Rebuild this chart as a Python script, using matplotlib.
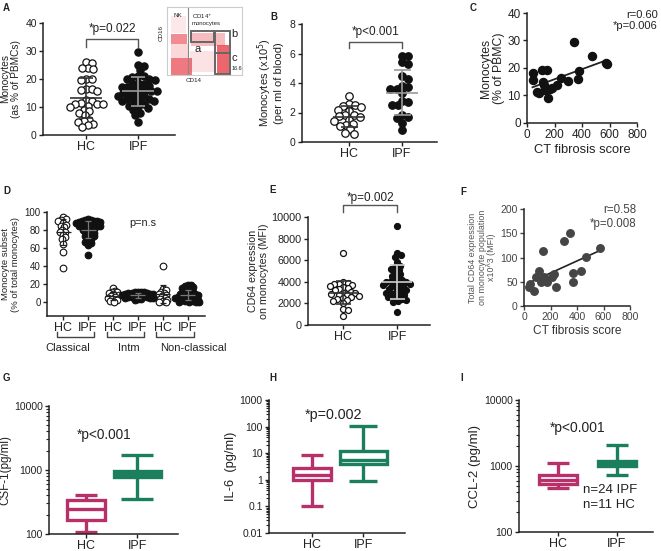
import numpy as np
import matplotlib.pyplot as plt
from matplotlib.patches import Rectangle
from matplotlib.transforms import blended_transform_factory

plt.rcParams['font.family'] = ['Liberation Sans', 'DejaVu Sans']
plt.rcParams['text.color'] = '#222222'
plt.rcParams['axes.labelcolor'] = '#222222'
plt.rcParams['xtick.color'] = '#222222'
plt.rcParams['ytick.color'] = '#222222'

# ---------------- data ----------------
groups = ['HC', 'IPF']

# A: monocytes as % of PBMCs
a_hc = [26, 25.5, 24, 24, 23.5, 20, 20, 19.5, 16.5, 16.5, 16, 15.5, 12.5, 12, 11.5,
        11, 11, 11, 10.5, 10, 9, 8.5, 8, 7, 5.5, 5, 4.5, 4, 3.5, 3]
a_ipf = [29.5, 25, 24.5, 23, 21, 21, 20.5, 20, 20, 19.5, 18.5, 18, 18, 17.5, 17, 17,
         16.5, 16, 16, 15.5, 15.5, 15, 15, 14.5, 14, 14, 13.5, 13, 13, 12.5, 12, 12,
         11.5, 11, 10.5, 10, 9.5, 9, 8, 7, 4.5]

# B: monocytes (x10^5) per ml blood
b_hc = [3.1, 2.55, 2.5, 2.45, 2.4, 2.2, 2.1, 1.85, 1.8, 1.75, 1.7, 1.5, 1.45, 1.2,
        1.15, 1.1, 0.85, 0.6, 0.55]
b_ipf = [5.85, 5.8, 5.4, 5.3, 4.5, 4.3, 3.8, 3.7, 3.6, 3.6, 3.3, 2.8, 2.7, 2.5, 2.5,
         1.8, 1.7, 1.6, 1.3, 0.8]

# C: CT fibrosis score vs monocytes (% of PBMC)
c_score = [45, 40, 75, 85, 110, 115, 125, 145, 130, 150, 165, 180, 215, 245, 300,
           345, 370, 375, 470, 575, 580]
c_mono = [18.3, 15.5, 11.3, 10.8, 19.2, 14.8, 13.8, 19.2, 12.0, 9.2, 12.5, 12.8,
          13.8, 16.2, 15.2, 29.3, 15.9, 18.8, 24.2, 21.8, 21.3]

# D: monocyte subsets (% of total monocytes)
d_subsets = ['Classical', 'Intm', 'Non-classical']
d_hc_classical = [94, 92, 91, 90, 88, 86, 85, 83, 80, 78, 78, 75, 72, 70, 65, 56, 38]
d_ipf_classical = [92, 91, 91, 90, 90, 90, 89, 89, 88, 88, 87, 87, 86, 86, 85, 85, 84,
                   84, 83, 82, 81, 80, 80, 79, 78, 77, 76, 75, 74, 73, 72, 70, 68, 67,
                   66, 64, 52]
d_hc_intm = [16, 13, 12, 11, 10, 9, 8, 7, 6, 5, 4, 3, 2, 1]
d_ipf_intm = [12, 12, 11, 11, 10, 10, 10, 9, 9, 9, 8, 8, 8, 7, 7, 7, 6, 6, 6, 5, 5,
              5, 4, 4, 3]
d_hc_nonclass = [40, 15, 14, 12, 10, 9, 8, 7, 5, 4, 3, 2, 1, 0]
d_ipf_nonclass = [19, 19, 18, 17, 16, 15, 14, 13, 12, 11, 10, 10, 9, 9, 8, 8, 7, 7,
                  6, 6, 5, 5, 4, 4, 3, 3, 2, 2, 1, 1, 0, 0]

# E: CD64 expression on monocytes (MFI)
e_hc = [6700, 4000, 3900, 3800, 3800, 3700, 3600, 3500, 3400, 3300, 3200, 3100, 3000,
        3000, 2900, 2800, 2800, 2700, 2600, 2500, 2400, 2300, 2200, 2000, 1500, 1400, 800]
e_ipf = [9200, 6700, 6500, 6300, 5800, 5500, 5400, 5200, 5100, 4800, 4700, 4500, 4300,
         4200, 4100, 4000, 4000, 3900, 3800, 3800, 3700, 3600, 3500, 3400, 3300, 3200,
         3100, 3000, 3000, 2900, 2800, 2700, 2600, 2500, 2400, 2300, 2200, 2100, 1200]

# F: CT fibrosis score vs total CD64 expression x10^3 (MFI)
f_score = [43, 39, 76, 93, 112, 146, 129, 154, 171, 215, 227, 244, 300, 344, 368, 373,
           427, 471, 573]
f_cd64 = [45, 40, 30, 60, 72, 113, 50, 60, 50, 60, 65, 40, 133, 150, 50, 69, 73, 101, 119]

# G-I: box plots (whislo, q1, med, q3, whishi)
g_csf1 = {'HC': [109, 165, 250, 340, 405], 'IPF': [352, 790, 880, 960, 1700]}
h_il6 = {'HC': [0.1, 1.0, 1.54, 2.9, 8.2], 'IPF': [0.9, 4.0, 5.6, 12.6, 105]}
i_ccl2 = {'HC': [457, 542, 610, 725, 1117], 'IPF': [725, 990, 1080, 1183, 2070]}

HC_COL = '#B8306A'
IPF_COL = '#1B7F5E'

# ---------------- helpers ----------------
W_PX, H_PX = 661, 551
fig = plt.figure(figsize=(W_PX / 100, H_PX / 100), dpi=100)


def add_ax(x0, y0, x1, y1):
    # pixel box (top-left origin) -> figure fraction
    return fig.add_axes([x0 / W_PX, 1 - y1 / H_PX, (x1 - x0) / W_PX, (y1 - y0) / H_PX])


def style(ax, fs=7.5):
    for s in ('top', 'right'):
        ax.spines[s].set_visible(False)
    for s in ('left', 'bottom'):
        ax.spines[s].set_linewidth(1.1)
        ax.spines[s].set_color('#222222')
    ax.tick_params(direction='out', length=3, width=1, labelsize=fs, pad=1.5)
    ax.set_facecolor('none')


def swarm(ax, xc, vals, diam_px):
    pos = ax.get_position()
    x0, x1 = ax.get_xlim()
    y0, y1 = ax.get_ylim()
    sx = W_PX * pos.width / (x1 - x0)
    sy = H_PX * pos.height / (y1 - y0)
    ys = np.asarray(vals, float) * sy
    xs = np.zeros(len(ys))
    placed = []
    for i in np.argsort(-ys):
        y = ys[i]
        near = [(px, py) for px, py in placed if abs(py - y) < diam_px]
        cands = [0.0]
        for px, py in near:
            dx = np.sqrt(diam_px ** 2 - (py - y) ** 2)
            cands += [px + dx, px - dx]
        cands.sort(key=abs)
        for c in cands:
            if all((c - px) ** 2 + (y - py) ** 2 >= diam_px ** 2 - 1e-6 for px, py in near):
                xs[i] = c
                break
        placed.append((xs[i], y))
    return xc + xs / sx


def mean_sd(ax, xc, vals, color, half_mean, half_cap, lw=1.2):
    m = np.mean(vals)
    sd = np.std(vals, ddof=1)
    ax.hlines(m, xc - half_mean, xc + half_mean, color=color, lw=lw, zorder=5)
    ax.vlines(xc, m - sd, m + sd, color=color, lw=lw, zorder=5)
    ax.hlines([m - sd, m + sd], xc - half_cap, xc + half_cap, color=color, lw=lw, zorder=5)


def bracket(ax, x0, x1, y, ytick, text, ty, fs=8.5):
    ax.plot([x0, x0, x1, x1], [ytick, y, y, ytick], color='#555555', lw=1, clip_on=False)
    ax.text((x0 + x1) / 2, ty, text, ha='center', va='center', fontsize=fs, clip_on=False)


def letter(x, y, s):
    fig.text(x / W_PX, 1 - y / H_PX, s, fontsize=7, fontweight='bold', ha='left', va='top')


def scatter_pair(ax, hc, ipf, ms, diam, half_mean, half_cap, ipf_line='#9a9a9a'):
    ax.scatter(swarm(ax, 1, hc, diam), hc, s=ms ** 2, facecolor='white',
               edgecolor='#111111', lw=0.9, zorder=3, clip_on=False)
    ax.scatter(swarm(ax, 2, ipf, diam), ipf, s=ms ** 2, facecolor='#111111',
               edgecolor='#111111', lw=0.9, zorder=3, clip_on=False)
    mean_sd(ax, 1, hc, '#333333', half_mean, half_cap)
    mean_sd(ax, 2, ipf, ipf_line, half_mean, half_cap)
    ax.set_xticks([1, 2])
    ax.set_xticklabels(groups, fontsize=9)


# ---------------- A ----------------
axA = add_ax(43, 22.7, 175, 135)
style(axA, 7.5)
axA.set_xlim(0.17, 2.71)
axA.set_ylim(0, 40)
axA.set_yticks([0, 10, 20, 30, 40])
scatter_pair(axA, a_hc, a_ipf, 5.2, 5.8, 0.31, 0.14)
axA.set_ylabel('Monocytes\n(as % of PBMCs)', fontsize=7.3, linespacing=1.15, labelpad=3)
bracket(axA, 1, 2, 34.2, 31.3, '*p=0.022', 37.8)
letter(3, 3, 'A')

# inset flow plot
axIn = add_ax(167, 7, 242, 75)
axIn.set_xlim(0, 1)
axIn.set_ylim(0, 1)
axIn.set_xticks([])
axIn.set_yticks([])
for s in axIn.spines.values():
    s.set_color('#cccccc')
    s.set_linewidth(0.8)
for (rx, ry, rw, rh, al) in [(0.05, 0.45, 0.22, 0.16, 0.6), (0.05, 0.0, 0.28, 0.25, 0.7),
                              (0.32, 0.42, 0.45, 0.2, 0.35), (0.66, 0.02, 0.17, 0.42, 0.8),
                              (0.3, 0.05, 0.35, 0.3, 0.15), (0.05, 0.62, 0.2, 0.25, 0.12),
                              (0.05, 0.25, 0.24, 0.2, 0.2)]:
    axIn.add_patch(Rectangle((rx, ry), rw, rh, color='#e8404a', alpha=al, lw=0))
axIn.axvline(0.28, color='#888888', lw=0.8)
axIn.add_patch(Rectangle((0.32, 0.48), 0.3, 0.17, fill=False, ec='#666666', lw=1.4))
axIn.add_patch(Rectangle((0.64, 0.02), 0.2, 0.63, fill=False, ec='#666666', lw=1.4))
axIn.plot([0.64, 0.84], [0.32, 0.32], color='#666666', lw=1.4)
axIn.text(0.08, 0.88, 'NK', fontsize=4.5, va='center')
axIn.text(0.33, 0.82, 'CD14$^{+}$\nmonocytes', fontsize=4.3, va='center', linespacing=1.0)
axIn.text(0.36, 0.38, 'a', fontsize=8, va='center')
axIn.text(0.86, 0.6, 'b', fontsize=8, va='center')
axIn.text(0.86, 0.25, 'c', fontsize=8, va='center')
axIn.text(0.86, 0.09, '16.6', fontsize=4, va='center')
axIn.text(-0.04, 0.62, 'CD16', fontsize=4.5, rotation=90, ha='right', va='center')
axIn.text(0.35, -0.05, 'CD14', fontsize=4.5, ha='center', va='top')

# ---------------- B ----------------
axB = add_ax(302, 24, 437, 142)
style(axB, 7.5)
axB.set_xlim(0.11, 2.66)
axB.set_ylim(0, 8)
axB.set_yticks([0, 2, 4, 6, 8])
scatter_pair(axB, b_hc, b_ipf, 5.4, 6.2, 0.3, 0.16)
axB.set_ylabel('Monocytes (x10$^{5}$)\n(per ml of blood)', fontsize=8, linespacing=1.1,
               labelpad=4)
bracket(axB, 1, 2, 6.78, 6.37, '*p<0.001', 7.46)
letter(270, 12, 'B')

# ---------------- C ----------------
axC = add_ax(527, 13, 637, 123)
style(axC, 8.5)
axC.set_xlim(0, 800)
axC.set_ylim(0, 40)
axC.set_yticks([0, 10, 20, 30, 40])
axC.set_xticks([0, 200, 400, 600, 800])
axC.scatter(c_score, c_mono, s=5.8 ** 2, color='#111111', zorder=3, clip_on=False)
k, b0 = np.polyfit(c_score, c_mono, 1)
xx = np.array([min(c_score), max(c_score)])
axC.plot(xx, k * xx + b0, color='#222222', lw=1.3)
axC.set_ylabel('Monocytes\n(% of PBMC)', fontsize=8.8, linespacing=1.05, labelpad=2)
axC.set_xlabel('CT fibrosis score', fontsize=9.3, labelpad=2)
axC.text(1.19, 1.03, 'r=0.60\n*p=0.006', transform=axC.transAxes, ha='right', va='top',
         fontsize=8, linespacing=1.2)
letter(470, 3, 'C')

# ---------------- D ----------------
axD = add_ax(47, 212, 205, 316)
style(axD, 7)
axD.set_xlim(-0.65, 5.7)
axD.set_ylim(-15, 100)
axD.set_yticks([0, 20, 40, 60, 80, 100])
d_sets = [d_hc_classical, d_ipf_classical, d_hc_intm, d_ipf_intm, d_hc_nonclass,
          d_ipf_nonclass]
for i, vals in enumerate(d_sets):
    hc = i % 2 == 0
    axD.scatter(swarm(axD, i, vals, 3.2), vals, s=4.8 ** 2,
                facecolor='white' if hc else '#111111', edgecolor='#111111', lw=0.8,
                zorder=3, clip_on=False)
    mean_sd(axD, i, vals, '#222222' if hc else '#777777', 0.3, 0.12, lw=0.9)
axD.set_xticks(range(6))
axD.set_xticklabels(groups * 3, fontsize=9)
axD.set_ylabel('Monocyte subset\n(% of total monocytes)', fontsize=6.8, linespacing=1.15,
               labelpad=3)
axD.text(3.2, 88, 'p=n.s', fontsize=7.8, ha='center', va='center')
tD = blended_transform_factory(axD.transData, axD.transAxes)
for j, (name, lx) in enumerate(zip(d_subsets, [0.2, 2.62, 5.24])):
    x0, x1 = 2 * j - 0.25, 2 * j + 1.25
    axD.plot([x0, x0, x1, x1], [-0.155, -0.2, -0.2, -0.155], color='#444444', lw=1,
             transform=tD, clip_on=False)
    axD.text(lx, -0.31, name, transform=tD, ha='center', va='center', fontsize=8)
letter(3, 186, 'D')

# ---------------- E ----------------
axE = add_ax(308, 217, 430, 325)
style(axE, 7.8)
axE.set_xlim(0.35, 2.61)
axE.set_ylim(0, 10000)
axE.set_yticks([0, 2000, 4000, 6000, 8000, 10000])
scatter_pair(axE, e_hc, e_ipf, 4.3, 4.6, 0.27, 0.14, ipf_line='#cfcfcf')
axE.set_ylabel('CD64 expression\non monocytes (MFI)', fontsize=7.7, linespacing=1.1,
               labelpad=2)
bracket(axE, 1, 2, 11111, 10463, '*p=0.002', 11760, fs=8.5)
letter(269, 185, 'E')

# ---------------- F ----------------
axF = add_ax(524, 209, 630, 306)
style(axF, 7.5)
axF.tick_params(colors='#444444')
axF.set_xlim(0, 800)
axF.set_ylim(0, 200)
axF.set_yticks([0, 50, 100, 150, 200])
axF.set_xticks([0, 200, 400, 600, 800])
axF.scatter(f_score, f_cd64, s=5.4 ** 2, color='#454545', zorder=3, clip_on=False)
k, b0 = np.polyfit(f_score, f_cd64, 1)
xx = np.array([min(f_score), max(f_score)])
axF.plot(xx, k * xx + b0, color='#222222', lw=1.2)
axF.set_ylabel('Total CD64 expression\non monocyte population\nx10^3 (MFI)', fontsize=6.4,
               color='#555555', linespacing=1.1, labelpad=3)
axF.set_xlabel('CT fibrosis score', fontsize=8.6, labelpad=2, color='#333333')
axF.text(1.06, 1.05, 'r=0.58\n*p=0.008', transform=axF.transAxes, ha='right', va='top',
         fontsize=8.3, color='#444444', linespacing=1.2)
letter(460, 187, 'F')


# ---------------- G, H, I ----------------
def box_panel(ax, data, ylim, widths, capws, ylabel, fs_lab):
    style(ax, 7.5)
    ax.set_yscale('log')
    stats = []
    for g in groups:
        lo, q1, med, q3, hi = data[g]
        stats.append(dict(whislo=lo, q1=q1, med=med, q3=q3, whishi=hi, label=g))
    bp = ax.bxp(stats, positions=[1, 2], widths=widths, capwidths=capws, showfliers=False,
                patch_artist=True, manage_ticks=False)
    for i, col in enumerate([HC_COL, IPF_COL]):
        bp['boxes'][i].set(facecolor='white', edgecolor=col, linewidth=2.4)
        bp['medians'][i].set(color=col, linewidth=2.4)
        for w in bp['whiskers'][2 * i:2 * i + 2] + bp['caps'][2 * i:2 * i + 2]:
            w.set(color=col, linewidth=2.4, solid_capstyle='butt')
    ax.set_ylim(*ylim)
    ax.set_xticks([1, 2])
    ax.set_xticklabels(groups, fontsize=9)
    ax.tick_params(axis='y', which='minor', length=2, width=0.8)
    ax.set_ylabel(ylabel, fontsize=fs_lab, labelpad=2)


axG = add_ax(49, 406, 178, 534)
axG.set_xlim(0.27, 2.8)
box_panel(axG, g_csf1, (100, 10000), [0.75, 0.92], [0.43, 0.62], 'CSF-1(pg/ml)', 8.4)
axG.set_yticks([100, 1000, 10000])
axG.set_yticklabels(['100', '1000', '10000'])
axG.text(1.35, 10 ** 3.55, '*p<0.001', fontsize=9.8, ha='center', va='center')
letter(3, 373, 'G')

axH = add_ax(269, 400, 405, 533)
axH.set_xlim(0.16, 2.82)
box_panel(axH, h_il6, (0.01, 1000), [0.75, 0.92], [0.43, 0.55], 'IL-6  (pg/ml)', 9.3)
axH.set_yticks([0.01, 0.1, 1, 10, 100, 1000])
axH.set_yticklabels(['0.01', '0.1', '1', '10', '100', '1000'])
axH.text(1.42, 10 ** 2.45, '*p=0.002', fontsize=10.3, ha='center', va='center')
letter(269, 373, 'H')

axI = add_ax(519, 400, 653, 532)
axI.set_xlim(0.34, 2.61)
box_panel(axI, i_ccl2, (100, 10000), [0.65, 0.65], [0.37, 0.37], 'CCL-2 (pg/ml)', 9.5)
axI.set_yticks([100, 1000, 10000])
axI.set_yticklabels(['100', '1000', '10000'])
axI.text(1.34, 10 ** 3.57, '*p<0.001', fontsize=10, ha='center', va='center')
axI.text(1.43, 10 ** 2.52, 'n=24 IPF\nn=11 HC', fontsize=9.5, ha='left', va='center',
         linespacing=1.3)
letter(460, 373, 'I')

plt.savefig('out.png', dpi=100)
